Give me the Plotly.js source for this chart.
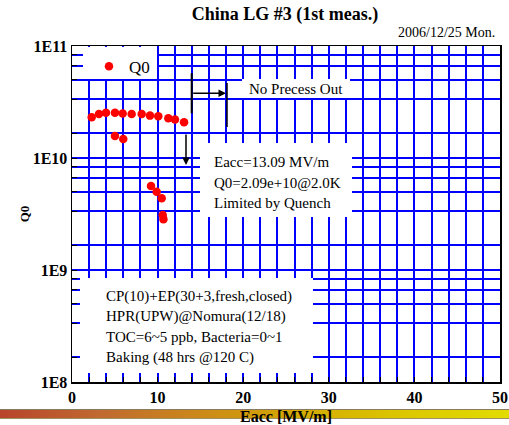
<!DOCTYPE html>
<html><head><meta charset="utf-8">
<script src="https://cdn.plot.ly/plotly-3.0.1.min.js"></script>
<style>
html,body{margin:0;padding:0;background:#fff;}
#wrap{position:relative;width:509px;height:425px;overflow:hidden;}
#bar{position:absolute;left:0;top:409px;width:509px;height:8px;border-top:1px solid #8a7a60;border-bottom:1px solid #a09060;
 background:linear-gradient(to right,#b8442c 0%,#c06a30 20%,#cc8a18 40%,#d4ac00 60%,#dcc800 80%,#e2dc00 100%);z-index:0;}
#chart{position:absolute;left:0;top:0;width:509px;height:425px;z-index:1;}
</style></head>
<body><div id="wrap"><div id="bar"></div><div id="chart"></div></div>
<script>
// ---- data ----
const eacc = [2.3, 3.15, 3.97, 5.02, 5.92, 6.97, 8.14, 9.11, 10.08, 11.25, 12.03, 13.09, 5.02, 5.99, 9.23, 9.89, 10.48, 10.6, 10.68];
const q0 = [2.31e10, 2.47e10, 2.54e10, 2.54e10, 2.50e10, 2.47e10, 2.47e10, 2.39e10, 2.36e10, 2.26e10, 2.21e10, 2.09e10, 1.57e10, 1.48e10, 5.62e9, 5.0e9, 4.37e9, 3.1e9, 2.84e9];
const seriesName = 'Q0';
const xTickVals = [0,2,4,6,8,10,12,14,16,18,20,22,24,26,28,30,32,34,36,38,40,42,44,46,48,50];
const xTickText = ['0','','','','','10','','','','','20','','','','','30','','','','','40','','','','','50'];
const yTickVals = [1e8,1.667e8,3.333e8,5e8,6.667e8,8.333e8,1e9,1.667e9,3.333e9,5e9,6.667e9,8.333e9,1e10,1.667e10,3.333e10,5e10,6.667e10,8.333e10,1e11];
const yTickText = ['1E8','','','','','','1E9','','','','','','1E10','','','','','','1E11'];
const titleText = 'China LG #3 (1st meas.)';
const dateText = '2006/12/25 Mon.';
const noteTop = 'No Precess Out';
const noteResult = ['Eacc=13.09 MV/m', 'Q0=2.09e+10@2.0K', 'Limited by Quench'];
const noteProcess = ['CP(10)+EP(30+3,fresh,closed)', 'HPR(UPW)@Nomura(12/18)', 'TOC=6~5 ppb, Bacteria=0~1', 'Baking (48 hrs @120 C)'];

// ---- layout helpers (pixel -> paper) ----
const L = 72, T = 46, W = 428, H = 336;
const px = p => (p - L) / W;
const py = p => (T + H - p) / H;
const serif = 'Liberation Serif, Times New Roman, serif';

const boxes = [[83,47,157,79],[242,79,350,98],[200,143,352,217],[80,278,313,373]];
const shapes = boxes.map(b => ({type:'rect', xref:'paper', yref:'paper', x0:px(b[0]), x1:px(b[2]), y0:py(b[3]), y1:py(b[1]),
  fillcolor:'#ffffff', line:{width:0}, layer:'above'}));
shapes.push({type:'line', xref:'paper', yref:'paper', x0:px(191.7), x1:px(191.7), y0:py(73.3), y1:py(113.3), line:{color:'#000', width:2}});
shapes.push({type:'line', xref:'paper', yref:'paper', x0:px(227), x1:px(227), y0:py(83), y1:py(127), line:{color:'#000', width:1.5}});

const annotations = [];
annotations.push({xref:'paper', yref:'paper', x:px(497), y:py(33), xanchor:'right', yanchor:'middle', text:dateText, showarrow:false, font:{family:serif, size:14, color:'#000'}});
annotations.push({xref:'paper', yref:'paper', x:px(296), y:py(88.5), xanchor:'center', yanchor:'middle', text:noteTop, showarrow:false, font:{family:serif, size:15, color:'#000'}});
[161.7,183,202.7].forEach((yy,i)=>annotations.push({xref:'paper', yref:'paper', x:px(212), y:py(yy), xanchor:'left', yanchor:'middle', text:noteResult[i], showarrow:false, font:{family:serif, size:15, color:'#000'}}));
[296.7,316.7,337.3,357.7].forEach((yy,i)=>annotations.push({xref:'paper', yref:'paper', x:px(104), y:py(yy), xanchor:'left', yanchor:'middle', text:noteProcess[i], showarrow:false, font:{family:serif, size:15, color:'#000'}}));
annotations.push({xref:'paper', yref:'paper', x:px(186), y:py(165), text:'', showarrow:true, ax:0, ay:-32, arrowhead:2, arrowsize:1, arrowwidth:1.5, arrowcolor:'#000'});
annotations.push({xref:'paper', yref:'paper', x:px(226), y:py(93.3), text:'', showarrow:true, ax:-34.3, ay:0, arrowhead:2, arrowsize:1, arrowwidth:1.5, arrowcolor:'#000'});

const trace = {x:eacc, y:q0, type:'scatter', mode:'markers', name:seriesName,
  marker:{color:'#ff0000', size:8.5}};

const axisCommon = {showline:true, linecolor:'#000', linewidth:1.5, mirror:true, ticks:'inside', ticklen:5, tickwidth:1, tickcolor:'#000',
  showgrid:true, gridcolor:'#0000ff', gridwidth:2, zeroline:false, tickmode:'array',
  tickfont:{family:serif, size:16, color:'#000', weight:'bold'}};

const layout = {
  width:509, height:425,
  margin:{l:L, r:509-L-W, t:T, b:425-T-H},
  paper_bgcolor:'rgba(0,0,0,0)', plot_bgcolor:'#ffffff',
  title:{text:titleText, font:{family:serif, size:18, color:'#000', weight:'bold'}, x:285/509, xanchor:'center', y:1-14/425, yanchor:'middle'},
  xaxis:Object.assign({}, axisCommon, {range:[0,50], tickvals:xTickVals, ticktext:xTickText,
     title:{text:'Eacc [MV/m]', font:{family:serif, size:16, color:'#000', weight:'bold'}, standoff:9}}),
  yaxis:Object.assign({}, axisCommon, {type:'log', range:[8,11], tickvals:yTickVals, ticktext:yTickText,
     title:{text:'Q0', font:{family:serif, size:13, color:'#000', weight:'bold'}, standoff:0}}),
  showlegend:true,
  legend:{x:px(89), xanchor:'left', y:py(66.7), yanchor:'middle', bgcolor:'rgba(0,0,0,0)', borderwidth:0,
     font:{family:serif, size:17, color:'#000'}},
  shapes:shapes, annotations:annotations
};

Plotly.newPlot('chart', [trace], layout, {displayModeBar:false, staticPlot:true});
</script>
</body></html>
